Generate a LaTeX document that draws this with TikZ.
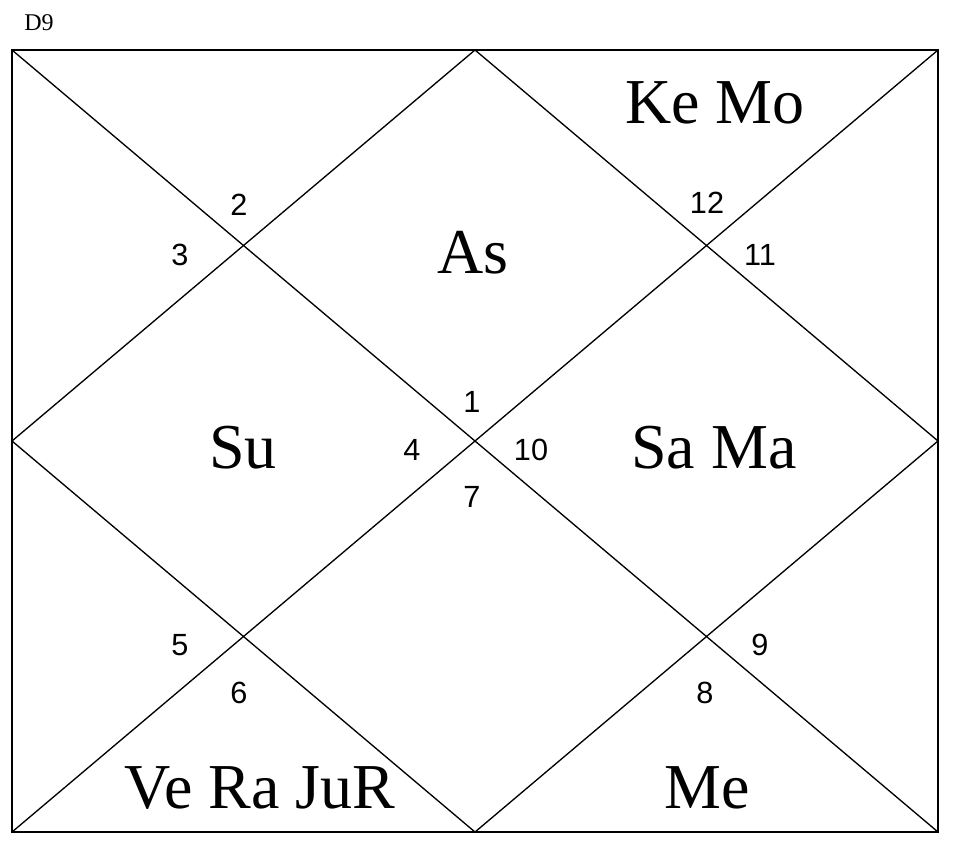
\documentclass[tikz,border=0pt]{standalone}
\usepackage{fontspec}
\setmainfont{Liberation Serif}
\newfontfamily\numfont{Liberation Sans}
\begin{document}
\begin{tikzpicture}[x=0.75pt,y=-0.75pt,
  lbl/.style={font=\fontsize{48}{52}\selectfont,inner sep=0pt},
  num/.style={font=\numfont\fontsize{23}{25}\selectfont,inner sep=0pt},
  ln/.style={line width=1pt}]
\useasboundingbox (0,0) rectangle (960,844);
\coordinate (tl) at (12,50); \coordinate (tr) at (938,50);
\coordinate (bl) at (12,832); \coordinate (br) at (938,832);
\coordinate (tm) at (475,50); \coordinate (bm) at (475,832);
\coordinate (lm) at (12,441); \coordinate (rm) at (938,441);
\draw[ln] (tl) rectangle (br);
\draw[ln] (tl) -- (br); \draw[ln] (tr) -- (bl);
\draw[ln] (tm) -- (rm) -- (bm) -- (lm) -- cycle;
\node[font=\fontsize{18}{20}\selectfont,inner sep=0pt] (d9) at (39,23) {D9};
\node[lbl] (kemo) at (715,103) {Ke Mo};
\node[lbl] (as) at (473,253) {As};
\node[lbl] (su) at (243,448) {Su};
\node[lbl] (sama) at (714,448) {Sa Ma};
\node[lbl] (vera) at (260,788) {Ve Ra JuR};
\node[lbl] (me) at (707,788) {Me};
\node[num] (n2) at (239,205) {2};
\node[num] (n3) at (180,255) {3};
\node[num] (n12) at (707,203) {12};
\node[num] (n11) at (760,255) {11};
\node[num] (n1) at (472,402) {1};
\node[num] (n4) at (412,450) {4};
\node[num] (n10) at (531,450) {10};
\node[num] (n7) at (472,497) {7};
\node[num] (n5) at (180,645) {5};
\node[num] (n6) at (239,693) {6};
\node[num] (n9) at (760,645) {9};
\node[num] (n8) at (705,693) {8};
\end{tikzpicture}
\end{document}
